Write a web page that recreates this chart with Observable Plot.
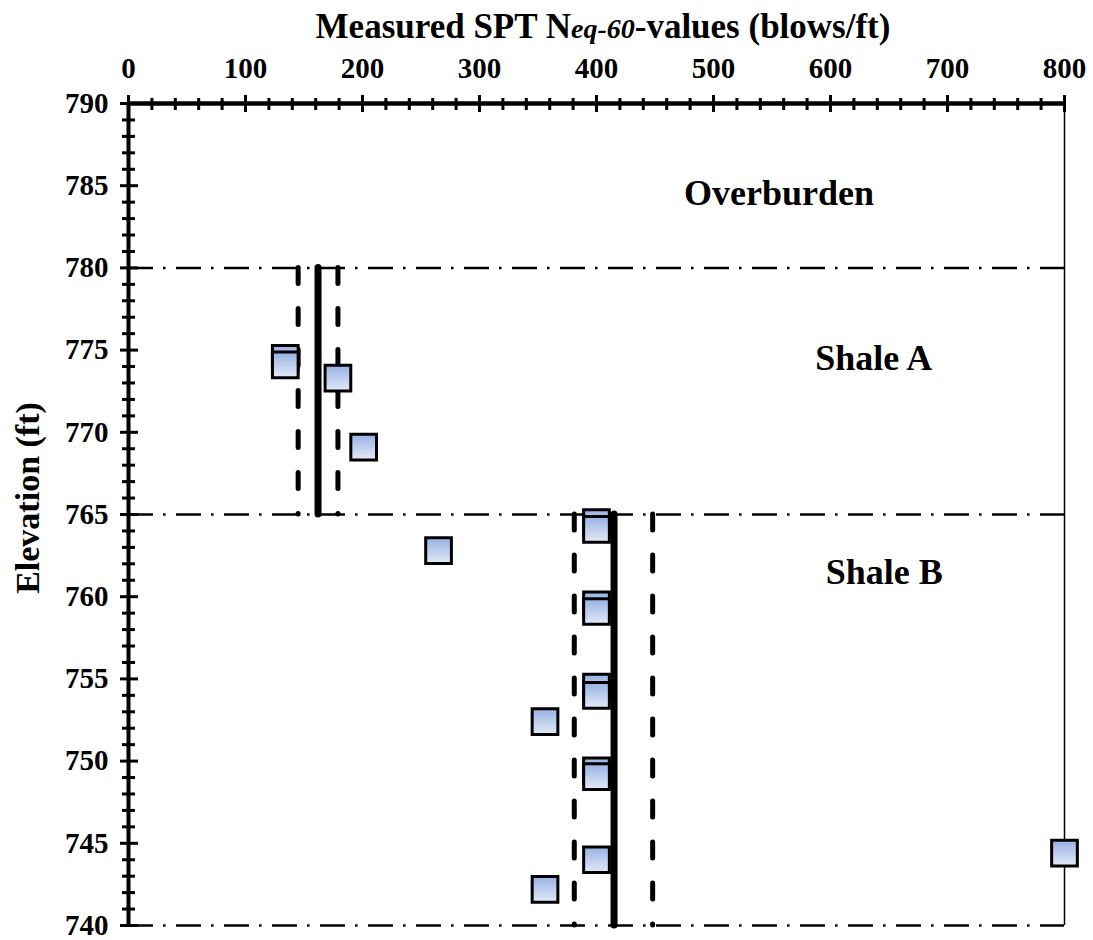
<!DOCTYPE html>
<html>
<head>
<meta charset="utf-8">
<script src="https://cdn.jsdelivr.net/npm/d3@7"></script>
<script src="https://cdn.jsdelivr.net/npm/@observablehq/plot@0.6"></script>
<style>
  body { margin: 0; background: #fff; }
  #chart svg { display: block; }
</style>
</head>
<body>
<div id="chart"></div>
<script>
// Measured SPT N(eq-60) values by elevation
const spt       = [134, 134, 179, 201, 265, 400, 400, 400, 400, 400, 400, 356, 400, 400, 400, 356, 800];
const elevation = [774.5, 774.1, 773.3, 769.1, 762.8, 764.5, 764.1, 759.5, 759.1, 754.5, 754.0, 752.4, 749.4, 749.05, 744.0, 742.2, 744.4];

// Layer boundaries and layer names
const boundaryElev = [780, 765, 740];
const layerNames   = ["Overburden", "Shale A", "Shale B"];
const layerLabelN  = [556, 637, 646];
const layerLabelEl = [784.5, 774.5, 761.5];

// Design values per shale layer: mean and the band either side
const statLayers = ["Shale A", "Shale B"];
const statTop    = [780, 765];
const statBottom = [765, 740];
const statMean   = [162, 415];
const statLow    = [145, 381];
const statHigh   = [179, 448];

// Axis ticks
const xMajorTicks = d3.range(0, 801, 100);
const xMinorTicks = d3.range(0, 801, 20).filter(v => v % 100 !== 0);
const yMajorTicks = d3.range(740, 791, 5);
const yMinorTicks = d3.range(740, 791, 1).filter(v => v % 5 !== 0);
const xMax = 800, yTop = 790;

const points = spt.map((n, i) => ({n, elev: elevation[i]}));
const layers = statLayers.map((name, i) => ({
  name, top: statTop[i], bottom: statBottom[i],
  mean: statMean[i], low: statLow[i], high: statHigh[i]
}));
const labels = layerNames.map((name, i) => ({name, n: layerLabelN[i], elev: layerLabelEl[i]}));

const chart = Plot.plot({
  width: 1093,
  height: 940,
  marginTop: 103,
  marginBottom: 15,
  marginLeft: 128,
  marginRight: 29,
  x: {domain: [0, 800], label: null},
  y: {domain: [740, 790], label: null},
  style: {
    fontFamily: '"Liberation Serif", "Times New Roman", serif',
    fontWeight: "bold",
    color: "#000",
    background: "#fff"
  },
  marks: [
    // layer boundaries (dash-dot)
    Plot.ruleY(boundaryElev, {stroke: "#000", strokeWidth: 2.5, strokeDasharray: "25,10,2.5,10.5"}),
    // right border
    Plot.ruleX([xMax], {stroke: "#000", strokeWidth: 1.5}),
    // band limits (dashed)
    Plot.ruleX(layers, {x: "low", y1: "top", y2: "bottom", stroke: "#000", strokeWidth: 5,
      strokeDasharray: "16,25", strokeLinecap: "round"}),
    Plot.ruleX(layers, {x: "high", y1: "top", y2: "bottom", stroke: "#000", strokeWidth: 5,
      strokeDasharray: "16,25", strokeLinecap: "round"}),
    // measured values
    Plot.dot(points, {x: "n", y: "elev", symbol: "square", r: 14.5,
      fill: "url(#sptFill)", stroke: "#000", strokeWidth: 3}),
    // layer mean (solid)
    Plot.ruleX(layers, {x: "mean", y1: "top", y2: "bottom", stroke: "#000", strokeWidth: 7,
      strokeLinecap: "round"}),
    // axis lines
    Plot.ruleY([yTop], {stroke: "#000", strokeWidth: 4.5}),
    Plot.ruleX([0], {stroke: "#000", strokeWidth: 4}),
    // top axis: ticks crossing the axis line, then labels
    Plot.axisX(xMinorTicks, {anchor: "top", tickSize: 12, dy: 6, strokeWidth: 3, fill: "none", label: null}),
    Plot.axisX(xMajorTicks, {anchor: "top", tickSize: 17, dy: 8, strokeWidth: 3, fill: "none", label: null}),
    Plot.axisX(xMajorTicks, {anchor: "top", tickSize: 0, tickPadding: 26, fontSize: 29, label: null}),
    // left axis
    Plot.axisY(yMinorTicks, {anchor: "left", tickSize: 13, dx: 7, strokeWidth: 3, fill: "none", label: null}),
    Plot.axisY(yMajorTicks, {anchor: "left", tickSize: 18, dx: 10, strokeWidth: 3, fill: "none", label: null}),
    Plot.axisY(yMajorTicks, {anchor: "left", tickSize: 0, tickPadding: 20, fontSize: 29, label: null}),
    // layer names
    Plot.text(labels, {x: "n", y: "elev", text: "name", fontSize: 36})
  ]
});

document.getElementById("chart").appendChild(chart);

const svg = d3.select(chart);
const grad = svg.insert("defs", ":first-child")
  .append("linearGradient")
  .attr("id", "sptFill")
  .attr("x1", 0).attr("y1", 0).attr("x2", 0).attr("y2", 1);
grad.append("stop").attr("offset", "0%").attr("stop-color", "#97b1e4");
grad.append("stop").attr("offset", "100%").attr("stop-color", "#e3eaf7");

// top title with the italic subscript part
const title = svg.append("text")
  .attr("x", 603)
  .attr("y", 38)
  .attr("text-anchor", "middle")
  .attr("fill", "#000")
  .style("font-size", "35px")
  .style("font-weight", "bold");
title.append("tspan").text("Measured SPT N");
title.append("tspan").style("font-style", "italic").style("font-size", "28px").text("eq-60");
title.append("tspan").text("-values (blows/ft)");

// y axis title
svg.append("text")
  .attr("transform", "translate(39,498) rotate(-90)")
  .attr("text-anchor", "middle")
  .attr("fill", "#000")
  .style("font-size", "34px")
  .style("font-weight", "bold")
  .text("Elevation (ft)");
</script>
</body>
</html>
